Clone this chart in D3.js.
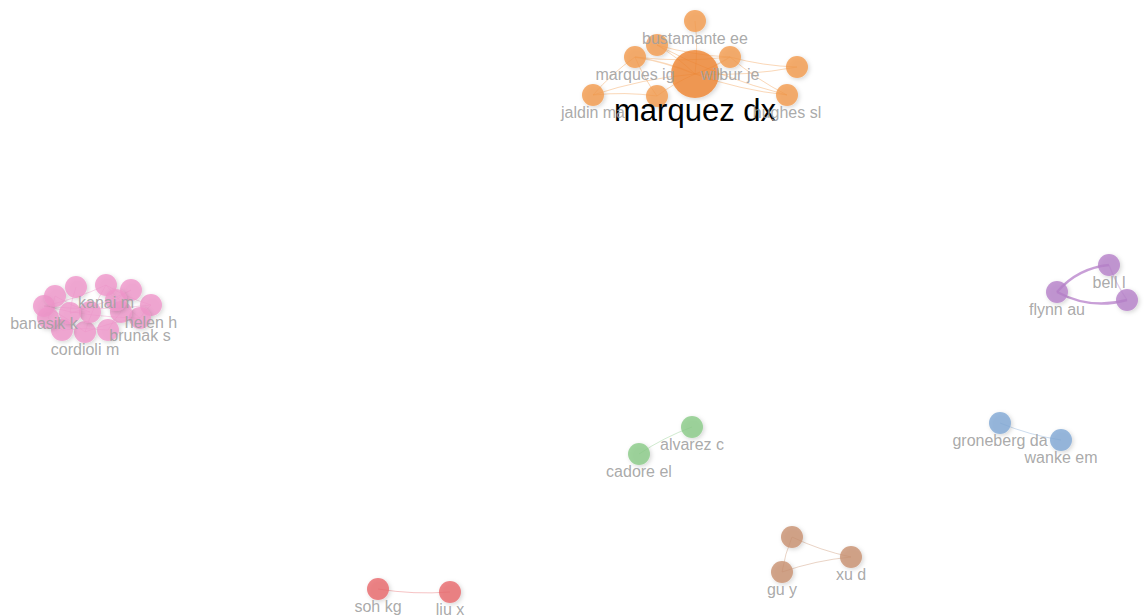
<!DOCTYPE html>
<html><head><meta charset="utf-8">
<script src="https://cdn.jsdelivr.net/npm/d3@7"></script>
<style>html,body{margin:0;padding:0;background:#fff;overflow:hidden}</style>
</head><body>
<svg id="c" width="1144" height="615"></svg>
<script>
// cluster colours
const clusterNames = ["orange","pink","purple","blue","green","brown","red"];
const clusterColors = ["#f39a4c","#ef96cb","#b57fc9","#7fa7d4","#8acb87","#c8906f","#e8686b"];

// nodes: id, label (""=hidden), cluster index, layout x, layout y, weight (size)
const nodeIds     = ["marquez","bustamante","marques","wilbur","jaldin","hughes","o1","o2","o3",
                     "banasik","kanai","helen","brunak","cordioli","p1","p2","p3","p4","p5","p6","p7","p8","p9","p10",
                     "flynn","bell","pu1","groneberg","wanke","alvarez","cadore","b1","xu","gu","soh","liu"];
const nodeLabels  = ["marquez dx","bustamante ee","marques ig","wilbur je","jaldin ma","hughes sl","","","",
                     "banasik k","kanai m","helen h","brunak s","cordioli m","","","","","","","","","","",
                     "flynn au","bell l","","groneberg da","wanke em","alvarez c","cadore el","","xu d","gu y","soh kg","liu x"];
const nodeCluster = [0,0,0,0,0,0,0,0,0,
                     1,1,1,1,1,1,1,1,1,1,1,1,1,1,1,
                     2,2,2,3,3,4,4,5,5,5,6,6];
const nodeX = [695,695,635,730,593,787,657,797,657,
               44,106,151,140,85,55,76,131,121,108,62,48,90,70,116,
               1057,1109,1127,1000,1061,692,639,792,851,782,378,450];
const nodeY = [74,21,57,57,95,95,45,67,96,
               306,285,305,318,332,296,287,290,312,330,330,318,312,313,300,
               292,265,300,423,440,427,454,537,557,572,589,592];
const nodeWeight = [5,1,1,1,1,1,1,1,1,
                    1,1,1,1,1,1,1,1,1,1,1,1,1,1,1,
                    1,1,1,1,1,1,1,1,1,1,1,1];

// links: source index, target index, strength
const linkSource = [0,0,0,0,0,0,0,0,2,2,2,6,6,3,3,8,
                    9,9,10,10,11,12,13,14,15,16,17,18,19,20,21,22,23,9,10,
                    25,24,25,
                    27,29,31,31,32,34];
const linkTarget = [1,2,3,4,5,6,7,8,4,3,8,3,5,7,5,4,
                    10,11,11,13,12,13,9,21,22,23,18,19,20,14,22,16,17,12,12,
                    24,26,26,
                    28,30,32,33,33,35];
const linkStrength = [1,2,2,1,1,1,1,1,1,1,1,1,1,1,1,1,
                      1,1,1,1,1,1,1,1,1,1,1,1,1,1,1,1,1,1,1,
                      3,3,2,
                      1,1,1,1,1,1];

const svg = d3.select("#c");
const W = 1144, H = 615;
const x = d3.scaleLinear().domain([0,1144]).range([0,W]);
const y = d3.scaleLinear().domain([0,615]).range([0,H]);
const r = d3.scaleSqrt().domain([1,5]).range([11,24]);
const fontS = d3.scaleLinear().domain([1,5]).range([16,31]);
const col = d3.scaleOrdinal().domain(d3.range(clusterNames.length)).range(clusterColors);

const defs = svg.append("defs");
const f = defs.append("filter").attr("id","sh").attr("x","-50%").attr("y","-50%").attr("width","200%").attr("height","200%");
f.append("feDropShadow").attr("dx",1.5).attr("dy",1.5).attr("stdDeviation",2).attr("flood-color","#000").attr("flood-opacity",0.2);

const nodes = nodeIds.map((id,i)=>({id,label:nodeLabels[i],c:nodeCluster[i],x:nodeX[i],y:nodeY[i],w:nodeWeight[i]}));
const links = linkSource.map((s,i)=>({s:nodes[s],t:nodes[linkTarget[i]],w:linkStrength[i]}));

function path(d){
  const x1=x(d.s.x),y1=y(d.s.y),x2=x(d.t.x),y2=y(d.t.y);
  const mx=(x1+x2)/2,my=(y1+y2)/2,dx=x2-x1,dy=y2-y1;
  const k = d.w>=3?0.2:0.06;
  return `M${x1},${y1}Q${mx-dy*k},${my+dx*k} ${x2},${y2}`;
}
svg.append("g").selectAll("path").data(links).join("path")
  .attr("d",path).attr("fill","none")
  .attr("stroke",d=>col(d.s.c))
  .attr("stroke-opacity",d=>d.w>=3?0.75:0.4)
  .attr("stroke-width",d=>d.w>=3?2.5:(d.w>=2?1.3:1));

svg.append("g").selectAll("circle").data(nodes).join("circle")
  .attr("cx",d=>x(d.x)).attr("cy",d=>y(d.y)).attr("r",d=>r(d.w))
  .attr("fill",d=>d.w>1?"#ef8530":col(d.c)).attr("fill-opacity",0.8).attr("filter","url(#sh)");

svg.append("g").selectAll("text").data(nodes.filter(d=>d.label)).join("text")
  .attr("x",d=>x(d.x)).attr("y",d=>y(d.y)+r(d.w)+ (d.w>1?23:12))
  .attr("text-anchor","middle")
  .attr("font-family","'Liberation Sans',Arial,sans-serif")
  .attr("font-size",d=>fontS(d.w))
  .attr("fill",d=>d.w>1?"#000":"#a0a0a0")
  .attr("fill-opacity",d=>d.w>1?1:0.9)
  .text(d=>d.label);
</script>
</body></html>
